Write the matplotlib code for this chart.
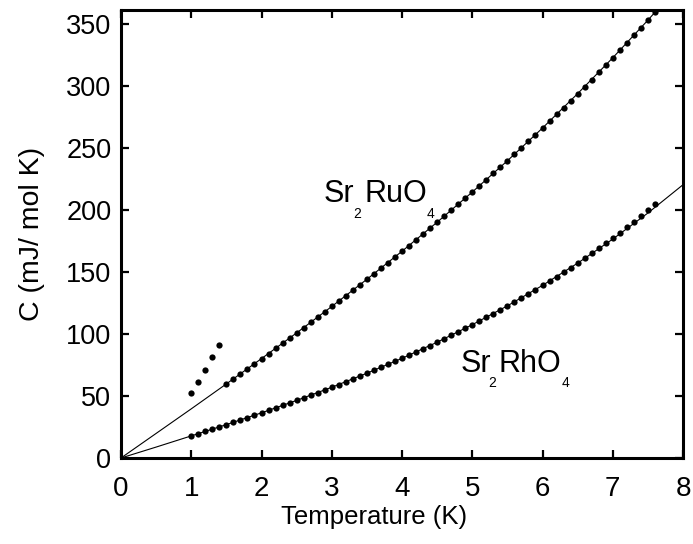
import matplotlib
matplotlib.use('Agg')
import matplotlib.pyplot as plt

plt.rcParams['font.family'] = ['Liberation Sans', 'DejaVu Sans']

# Sr2RuO4 data (low-T anomaly points and main curve)
ru_anom_T = [1.0, 1.1, 1.2, 1.3, 1.4]
ru_anom_C = [52.2, 61.6, 71.2, 81.5, 90.9]

ru_T = [1.5, 1.6, 1.7, 1.8, 1.9, 2.0, 2.1, 2.2, 2.3, 2.4, 2.5, 2.6, 2.7, 2.8, 2.9,
        3.0, 3.1, 3.2, 3.3, 3.4, 3.5, 3.6, 3.7, 3.8, 3.9, 4.0, 4.1, 4.2, 4.3, 4.4,
        4.5, 4.6, 4.7, 4.8, 4.9, 5.0, 5.1, 5.2, 5.3, 5.4, 5.5, 5.6, 5.7, 5.8, 5.9,
        6.0, 6.1, 6.2, 6.3, 6.4, 6.5, 6.6, 6.7, 6.8, 6.9, 7.0, 7.1, 7.2, 7.3, 7.4,
        7.5, 7.6]
ru_C = [59.7, 63.8, 67.8, 71.9, 76.0, 80.1, 84.2, 88.3, 92.5, 96.7, 100.8, 105.1,
        109.3, 113.5, 117.8, 122.1, 126.4, 130.8, 135.2, 139.6, 144.0, 148.5, 152.9,
        157.5, 162.0, 166.6, 171.2, 175.8, 180.5, 185.2, 190.0, 194.7, 199.6, 204.4,
        209.3, 214.3, 219.2, 224.2, 229.3, 234.4, 239.5, 244.7, 250.0, 255.3, 260.6,
        265.9, 271.4, 276.8, 282.4, 287.9, 293.6, 299.2, 305.0, 310.7, 316.6, 322.5,
        328.4, 334.4, 340.5, 346.6, 352.8, 359.0]

# Sr2RhO4 data
rh_T = [1.0, 1.1, 1.2, 1.3, 1.4, 1.5, 1.6, 1.7, 1.8, 1.9, 2.0, 2.1, 2.2, 2.3, 2.4,
        2.5, 2.6, 2.7, 2.8, 2.9, 3.0, 3.1, 3.2, 3.3, 3.4, 3.5, 3.6, 3.7, 3.8, 3.9,
        4.0, 4.1, 4.2, 4.3, 4.4, 4.5, 4.6, 4.7, 4.8, 4.9, 5.0, 5.1, 5.2, 5.3, 5.4,
        5.5, 5.6, 5.7, 5.8, 5.9, 6.0, 6.1, 6.2, 6.3, 6.4, 6.5, 6.6, 6.7, 6.8, 6.9,
        7.0, 7.1, 7.2, 7.3, 7.4, 7.5, 7.6]
rh_C = [17.8, 19.6, 21.4, 23.2, 25.1, 26.9, 28.8, 30.7, 32.6, 34.5, 36.4, 38.4,
        40.4, 42.4, 44.4, 46.4, 48.5, 50.6, 52.7, 54.8, 57.0, 59.2, 61.4, 63.7,
        65.9, 68.3, 70.6, 73.0, 75.4, 77.8, 80.3, 82.8, 85.4, 88.0, 90.6, 93.3,
        96.1, 98.8, 101.6, 104.5, 107.4, 110.3, 113.3, 116.4, 119.5, 122.6, 125.8,
        129.0, 132.3, 135.7, 139.1, 142.6, 146.1, 149.7, 153.4, 157.2, 161.1, 165.0,
        169.0, 173.1, 177.3, 181.6, 186.0, 190.5, 194.9, 199.6, 204.5]

# fit curves
fit_T = [0, 0.5, 1, 1.5, 2, 2.5, 3, 3.5, 4, 4.5, 5, 5.5, 6, 6.5, 7, 7.5, 8]
ru_fit = [0, 19.8, 39.6, 59.7, 80.1, 100.8, 122.1, 144.0, 166.6, 190.0, 214.3,
          239.5, 265.9, 293.6, 322.5, 352.8, 384.6]
rh_fit = [0, 8.8, 17.8, 26.9, 36.4, 46.4, 57.0, 68.3, 80.3, 93.3, 107.4, 122.6,
          139.1, 157.0, 176.4, 197.4, 220.2]

fig = plt.figure(figsize=(6.93, 5.44), dpi=100)
ax = fig.add_axes([0.1746, 0.1581, 0.811, 0.8235])

ax.plot(fit_T, ru_fit, color='black', lw=0.8)
ax.plot(fit_T, rh_fit, color='black', lw=0.8)
ax.plot(ru_T, ru_C, 'o', color='black', ms=4.5, mew=0)
ax.plot(ru_anom_T, ru_anom_C, 'o', color='black', ms=4.5, mew=0)
ax.plot(rh_T, rh_C, 'o', color='black', ms=4.5, mew=0)

ax.set_xlim(0, 8)
ax.set_ylim(0, 361)
ax.set_xticks(range(0, 9))
ax.set_yticks(range(0, 351, 50))
ax.tick_params(direction='in', length=6, width=1.6, top=True, right=True)
ax.tick_params(axis='x', labelsize=20, pad=13)
ax.tick_params(axis='y', labelsize=19.5, pad=7)
for s in ax.spines.values():
    s.set_linewidth(2.2)

ax.set_xlabel('Temperature (K)', fontsize=18.5)
ax.xaxis.set_label_coords(0.45, -0.105)
ax.set_ylabel('C (mJ/ mol K)', fontsize=20.5, labelpad=15)

# compound labels with spaced subscripts
big = 22
small = 10
ax.text(2.89, 206.5, 'Sr', fontsize=big, va='baseline')
ax.text(3.31, 193.5, '2', fontsize=small, va='baseline')
ax.text(3.47, 206.5, 'RuO', fontsize=big, va='baseline')
ax.text(4.35, 193.5, '4', fontsize=small, va='baseline')

ax.text(4.83, 69.6, 'Sr', fontsize=big, va='baseline')
ax.text(5.23, 57.5, '2', fontsize=small, va='baseline')
ax.text(5.38, 69.6, 'RhO', fontsize=big, va='baseline')
ax.text(6.27, 57.5, '4', fontsize=small, va='baseline')

fig.savefig('out.png', dpi=100)
